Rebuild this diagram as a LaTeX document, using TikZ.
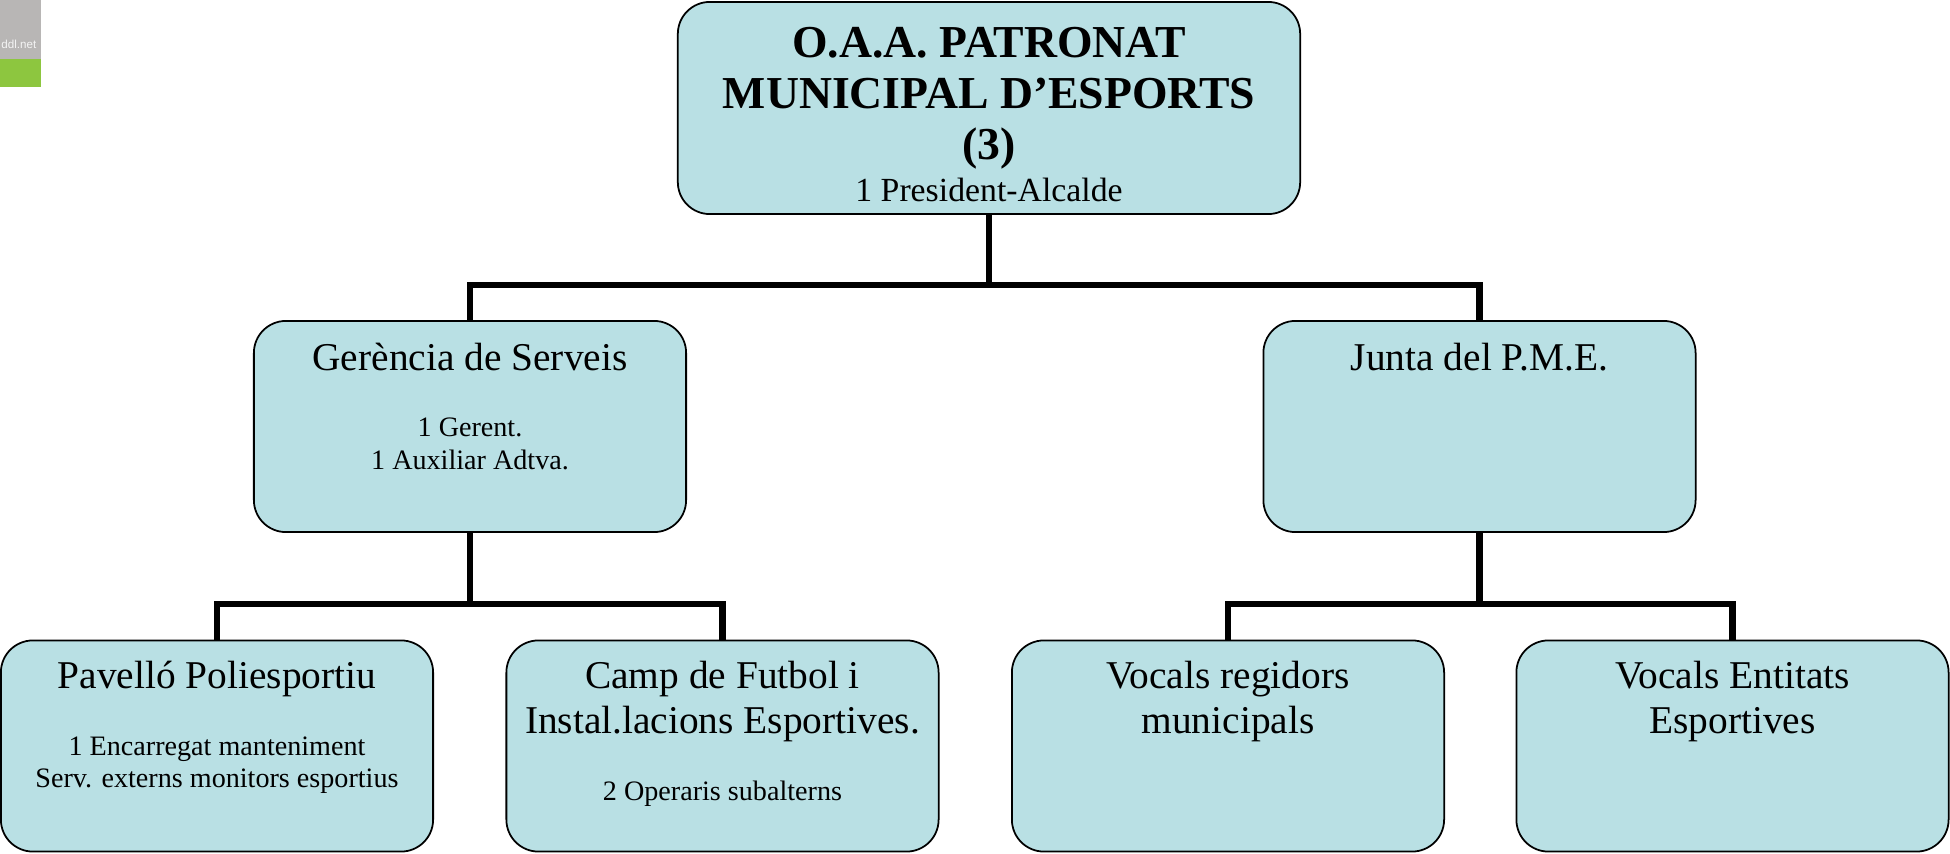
\documentclass[tikz,border=0pt]{standalone}
\usepackage{fontspec}
\setmainfont{Liberation Serif}
\newfontfamily\logofont{Liberation Sans}
\usepackage{xcolor}
\usepackage{tikz}
\usetikzlibrary{positioning}
\definecolor{BoxCyan}{RGB}{185,224,228}
\definecolor{LogoGray}{RGB}{184,182,181}
\definecolor{LogoGreen}{RGB}{141,198,63}
\tikzset{
  orgbox/.style={draw=black, line width=0.5pt, fill=BoxCyan, rounded corners=0.32cm,
    minimum width=4.32cm, minimum height=2.11cm, inner sep=0pt},
  topbox/.style={orgbox, minimum width=6.22cm, minimum height=2.12cm},
  titletxt/.style={font=\fontsize{13}{14.9}\selectfont\bfseries, anchor=base, inner sep=0pt},
  presttxt/.style={font=\fontsize{9.6}{11}\selectfont, anchor=base, inner sep=0pt},
  headtxt/.style={font=\fontsize{11.2}{12.9}\selectfont, anchor=base, inner sep=0pt},
  smalltxt/.style={font=\fontsize{8}{9.2}\selectfont, anchor=base, inner sep=0pt},
  link/.style={line width=1.8pt},
}

\begin{document}
\begin{tikzpicture}[x=0.01cm, y=-0.01cm]
  \useasboundingbox (0,0) rectangle (1950,854);

  % logo corner
  \fill[LogoGray] (0,0) rectangle (41,59);
  \fill[LogoGreen] (0,59) rectangle (41,87);
  \begin{scope}
    \clip (0,0) rectangle (41,59);
    \node[font=\logofont\fontsize{3.3}{4}\selectfont, text=white!85!LogoGray, anchor=base east, inner sep=0pt] (logoT) at (37,48) {ddl.net};
  \end{scope}

  % boxes
  \node[topbox] (pme) at (989,108) {};
  \node[orgbox] (ger) at (470,426.5) {};
  \node[orgbox] (junta) at (1479.5,426.5) {};
  \node[orgbox] (pav) at (217,746) {};
  \node[orgbox] (camp) at (722.5,746) {};
  \node[orgbox] (vreg) at (1228,746) {};
  \node[orgbox] (vent) at (1732.5,746) {};

  % connectors
  \coordinate (j1) at (989,285);
  \coordinate (j2) at (470,604);
  \coordinate (j3) at (1479.5,604);
  \draw[link] (pme.south) -- (j1);
  \draw[link] (ger.north) |- (j1) -| (junta.north);
  \draw[link] (ger.south) -- (j2);
  \draw[link] (pav.north) |- (j2) -| (camp.north);
  \draw[link] (junta.south) -- (j3);
  \draw[link] (vreg.north) |- (j3) -| (vent.north);

  % texts
  \node[titletxt] (pme1) at (989,57) {O.A.A. PATRONAT};
  \node[titletxt] (pme2) at (989,108) {MUNICIPAL D’ESPORTS};
  \node[titletxt] (pme3) at (989,159) {(3)};
  \node[presttxt] (pme4) at (989,201) {1 President-Alcalde};

  \node[headtxt] (ger1) at (470,370) {Gerència de Serveis};
  \node[smalltxt] (ger2) at (470,436) {1 Gerent.};
  \node[smalltxt] (ger3) at (470,469) {1 Auxiliar Adtva.};

  \node[headtxt] (junta1) at (1479.5,370) {Junta del P.M.E.};

  \node[headtxt] (pav1) at (217,688) {Pavelló Poliesportiu};
  \node[smalltxt] (pav2) at (217,755) {1 Encarregat manteniment};
  \node[smalltxt] (pav3) at (217,787) {Serv. externs monitors esportius};

  \node[headtxt] (camp1) at (722.5,688) {Camp de Futbol i};
  \node[headtxt] (camp2) at (722.5,733) {Instal.lacions Esportives.};
  \node[smalltxt] (camp3) at (722.5,800) {2 Operaris subalterns};

  \node[headtxt] (vreg1) at (1228,688) {Vocals regidors};
  \node[headtxt] (vreg2) at (1228,733) {municipals};

  \node[headtxt] (vent1) at (1732.5,688) {Vocals Entitats};
  \node[headtxt] (vent2) at (1732.5,733) {Esportives};
\end{tikzpicture}
\end{document}
